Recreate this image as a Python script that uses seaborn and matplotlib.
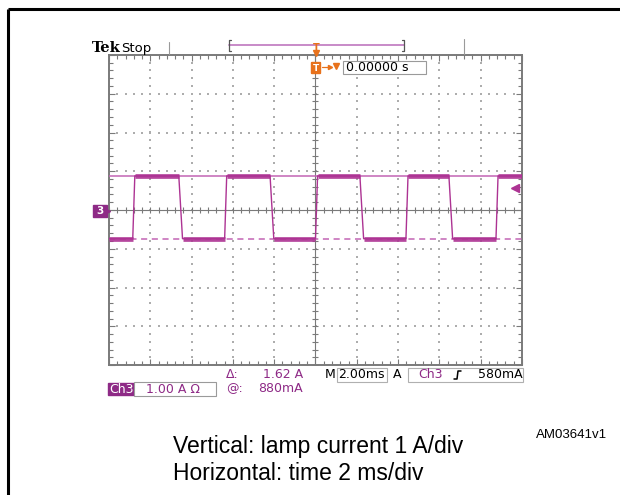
### -------------------- ###
###  Libraries
### -------------------- ###
import numpy as np
import pandas as pd
import matplotlib
matplotlib.use("Agg")
import matplotlib.pyplot as plt
import seaborn as sns
from matplotlib.patches import Rectangle, FancyBboxPatch

### -------------------- ###
###  Data
### -------------------- ###
# edge times in ms (0 = trigger, 2 ms/div)
rise_ms = [-8.85, -4.40, 0.0, 4.38, 8.74]
fall_ms = [-6.62, -2.20, 2.15, 6.46]
# current levels in A (1 A/div)
high_a = 0.88
low_a = -0.74
trig_level_a = 0.58
# readouts
delta_txt = "1.62 A"
at_txt = "880mA"
scale_txt = "1.00 A \u03a9"
time_txt = "2.00ms"
trig_txt = "580mA"
trig_pos_txt = "0.00000 s"

PURPLE = "#ad3393"
PURPLE_DARK = "#8e2a86"
ORANGE = "#e8721c"
GRID = "#7a7a7a"

### -------------------- ###
###  Build the trace
### -------------------- ###
def build_trace(rises, falls, hi, lo, t0=-10.0, t1=10.0, rise_ramp=0.10, fall_ramp=0.18):
    edges = sorted([(t, "r") for t in rises] + [(t, "f") for t in falls])
    ts, vs = [t0], [lo if edges[0][1] == "r" else hi]
    for t, kind in edges:
        if kind == "r":
            ts += [t, t + rise_ramp]
            vs += [lo, hi]
        else:
            ts += [t, t + fall_ramp]
            vs += [hi, lo]
    ts.append(t1)
    vs.append(vs[-1])
    return pd.DataFrame({"t_ms": ts, "i_a": vs})

trace = build_trace(rise_ms, fall_ms, high_a, low_a)

### -------------------- ###
###  Figure
### -------------------- ###
sns.set_style("white")
plt.rcParams["font.family"] = ["DejaVu Sans"]
plt.rcParams["text.color"] = "black"

W, H = 620, 495
fig = plt.figure(figsize=(W / 100, H / 100), dpi=100)
L, R, T, B = 109, 522, 55, 365
ax = fig.add_axes([L / W, 1 - B / H, (R - L) / W, (B - T) / H])
ax.set_xlim(-10, 10)
ax.set_ylim(-4, 4)

# graticule
xmaj = np.arange(-10, 10.01, 2)
ymaj = np.arange(-4, 4.01, 1)
xmin = np.arange(-10, 10.01, 0.4)
ymin = np.arange(-4, 4.01, 0.2)
for s in ax.spines.values():
    s.set_color(GRID)
    s.set_linewidth(1.4)
ax.set_xticks(xmaj)
ax.set_yticks(ymaj)
ax.set_xticks(xmin, minor=True)
ax.set_yticks(ymin, minor=True)
ax.tick_params(which="both", direction="in", top=True, right=True, bottom=True, left=True,
               labelbottom=False, labelleft=False, color=GRID, width=0.8)
ax.tick_params(which="major", length=4.5)
ax.tick_params(which="minor", length=3)

for xv in xmaj[1:-1]:
    if xv != 0:
        ax.scatter(np.full_like(ymin, xv), ymin, s=0.8, color="#adadad", marker="s", lw=0)
for yv in ymaj[1:-1]:
    if yv != 0:
        ax.scatter(xmin, np.full_like(xmin, yv), s=0.8, color="#adadad", marker="s", lw=0)
ax.axhline(0, color=GRID, lw=0.8)
ax.axvline(0, color=GRID, lw=0.8)
ax.plot(xmin, np.zeros_like(xmin), ls="none", marker="|", ms=5, mew=0.8, color=GRID)
ax.plot(np.zeros_like(ymin), ymin, ls="none", marker="_", ms=5, mew=0.8, color=GRID)

# cursors
ax.axhline(high_a, color="#c265b4", lw=1.1, zorder=3)
ax.axhline(low_a, color="#c265b4", lw=1.1, ls=(0, (4, 3)), zorder=3)

# trace: thin edges plus thick noisy-looking flat levels
sns.lineplot(data=trace, x="t_ms", y="i_a", sort=False, estimator=None,
             color=PURPLE, lw=1.0, ax=ax, zorder=4)
seg_t = [trace.t_ms.iloc[0]] + list(trace.t_ms.iloc[2:-1:2])
seg_e = list(trace.t_ms.iloc[1:-1:2]) + [trace.t_ms.iloc[-1]]
seg_v = [trace.i_a.iloc[0]] + list(trace.i_a.iloc[2:-1:2])
ax.hlines(seg_v, seg_t, seg_e, color=PURPLE, lw=3.4, alpha=0.9, zorder=4)
ax.set_xlabel("")
ax.set_ylabel("")

# trigger level marker on right
ax.plot(9.66, trig_level_a, marker="<", ms=6, color=PURPLE, zorder=5, clip_on=False)

### -------------------- ###
###  Overlay (pixel coordinates) for the scope readouts and the frame
### -------------------- ###
ov = fig.add_axes([0, 0, 1, 1], zorder=10)
ov.set_xlim(0, W)
ov.set_ylim(H, 0)
ov.axis("off")
ov.patch.set_alpha(0)

# document frame
ov.plot([8, W], [9, 9], color="black", lw=2.2, solid_capstyle="butt")
ov.plot([8, 8], [9, H], color="black", lw=2.2, solid_capstyle="butt")

# header
ov.text(92, 52, "Tek", fontsize=10.5, fontweight="bold", family="DejaVu Serif",
        ha="left", va="baseline")
ov.text(121, 52, "Stop", fontsize=9.5, ha="left", va="baseline")
ov.plot([169, 169], [42, 54], color="#9a9a9a", lw=0.8)
ov.plot([464, 464], [39, 54], color="#9a9a9a", lw=0.8)
ov.plot([229, 404], [45, 45], color="#c88ac8", lw=1.4)
ov.plot([231, 229, 229, 231], [40, 40, 51, 51], color="#555555", lw=0.9)
ov.plot([402, 404, 404, 402], [40, 40, 51, 51], color="#555555", lw=0.9)
ov.text(316, 48, "T", fontsize=7, fontweight="bold", color=ORANGE, ha="center", va="center")
ov.plot(316, 53, marker="v", ms=5, color=ORANGE)

# trigger position marker
ov.add_patch(FancyBboxPatch((312, 63), 8, 10, boxstyle="round,pad=0.5", fc=ORANGE, ec=ORANGE))
ov.text(316, 68.5, "T", fontsize=6.5, fontweight="bold", color="white", ha="center", va="center")
ov.plot([322, 330], [67, 67], color=ORANGE, lw=0.9)
ov.plot(330, 67, marker=">", ms=3, color=ORANGE)
ov.plot(336, 66, marker="v", ms=5, color=ORANGE)
ov.add_patch(Rectangle((343, 61), 83, 13, fc="white", ec="#9a9a9a", lw=0.8))
ov.text(346, 67.5, trig_pos_txt, fontsize=9, ha="left", va="center")

# channel ground marker
ov.add_patch(Rectangle((93, 205), 14, 12, fc=PURPLE_DARK, ec=PURPLE_DARK))
ov.plot(108, 211, marker=">", ms=3, color=PURPLE_DARK)
ov.text(100, 211.5, "3", fontsize=7.5, fontweight="bold", color="white", ha="center", va="center")

# bottom readouts
ov.add_patch(Rectangle((108, 383), 26, 12, fc=PURPLE_DARK, ec=PURPLE_DARK))
ov.text(121, 389.5, "Ch3", fontsize=9, color="white", ha="center", va="center")
ov.add_patch(Rectangle((134, 382), 82, 14, fc="white", ec="#9a9a9a", lw=0.8))
ov.text(146, 389.5, scale_txt, fontsize=9, color=PURPLE_DARK, ha="left", va="center")
ov.text(226, 375, "\u0394:", fontsize=9, color=PURPLE_DARK, ha="left", va="center")
ov.text(303, 375, delta_txt, fontsize=9, color=PURPLE_DARK, ha="right", va="center")
ov.text(226, 388.5, "@:", fontsize=9, color=PURPLE_DARK, ha="left", va="center")
ov.text(303, 388.5, at_txt, fontsize=9, color=PURPLE_DARK, ha="right", va="center")

ov.text(325, 375, "M", fontsize=9, ha="left", va="center")
ov.add_patch(Rectangle((337, 368), 50, 14, fc="white", ec="#b0b0b0", lw=0.8))
ov.text(338, 375, time_txt, fontsize=9, ha="left", va="center")
ov.text(393, 375, "A", fontsize=9, ha="left", va="center")
ov.add_patch(Rectangle((408, 368), 115, 14, fc="white", ec="#b0b0b0", lw=0.8))
ov.text(418, 375, "Ch3", fontsize=9, color=PURPLE_DARK, ha="left", va="center")
ov.plot([454, 457, 458, 461], [379, 379, 371, 371], color="black", lw=1.1)
ov.text(523, 375, trig_txt, fontsize=9, ha="right", va="center")

# figure id and caption
ov.text(607, 435, "AM03641v1", fontsize=9.5, family="Liberation Sans", ha="right", va="center")
ov.text(173, 447, "Vertical: lamp current 1 A/div", fontsize=16.5, family="Liberation Sans",
        ha="left", va="center")
ov.text(173, 473, "Horizontal: time 2 ms/div", fontsize=16.5, family="Liberation Sans",
        ha="left", va="center")

fig.savefig("out.png", dpi=100)
